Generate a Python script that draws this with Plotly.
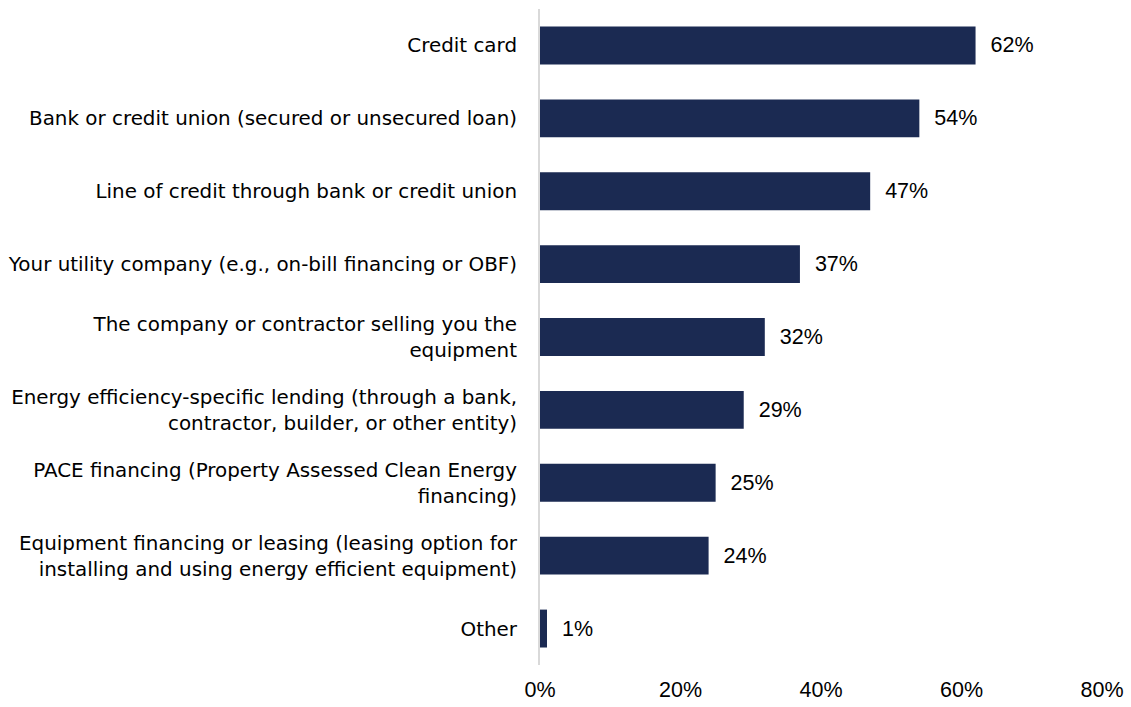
import plotly.graph_objects as go

categories = [
    "Credit card",
    "Bank or credit union (secured or unsecured loan)",
    "Line of credit through bank or credit union",
    "Your utility company (e.g., on-bill financing or OBF)",
    "The company or contractor selling you the<br>equipment",
    "Energy efficiency-specific lending (through a bank,<br>contractor, builder, or other entity)",
    "PACE financing (Property Assessed Clean Energy<br>financing)",
    "Equipment financing or leasing (leasing option for<br>installing and using energy efficient equipment)",
    "Other",
]
values = [62, 54, 47, 37, 32, 29, 25, 24, 1]
x_ticks = [0, 20, 40, 60, 80]
x_tick_labels = ["0%", "20%", "40%", "60%", "80%"]

fig = go.Figure(
    go.Bar(
        x=values,
        y=categories,
        orientation="h",
        marker=dict(color="#1b2a52", line=dict(width=0)),
        text=[f"  {v}%" for v in values],
        textposition="outside",
        textfont=dict(family="Arial, Liberation Sans", size=21.5, color="#000000"),
        cliponaxis=False,
    )
)

fig.update_layout(
    width=1131,
    height=707,
    margin=dict(l=540, r=29, t=9, b=42),
    plot_bgcolor="white",
    paper_bgcolor="white",
    bargap=0.48,
    showlegend=False,
    font=dict(family="Arial, Liberation Sans", size=21.5, color="#000000"),
)
fig.update_xaxes(
    range=[0, 80],
    tickvals=x_ticks,
    ticktext=x_tick_labels,
    showgrid=False,
    zeroline=False,
    showline=False,
    ticks="",
    ticklabelstandoff=9,
    tickfont=dict(size=21.5),
    automargin=False,
)
fig.update_yaxes(
    autorange="reversed",
    showgrid=False,
    zeroline=False,
    showline=True,
    linecolor="#d9d9d9",
    linewidth=2,
    ticks="",
    ticklabelstandoff=17,
    tickfont=dict(family="DejaVu Sans", size=19.9, color="#000000"),
    automargin=False,
)

fig.write_html(
    "out.html",
    config={"displayModeBar": False},
    post_script="document.body.style.margin='0';document.body.style.overflow='hidden';",
)
